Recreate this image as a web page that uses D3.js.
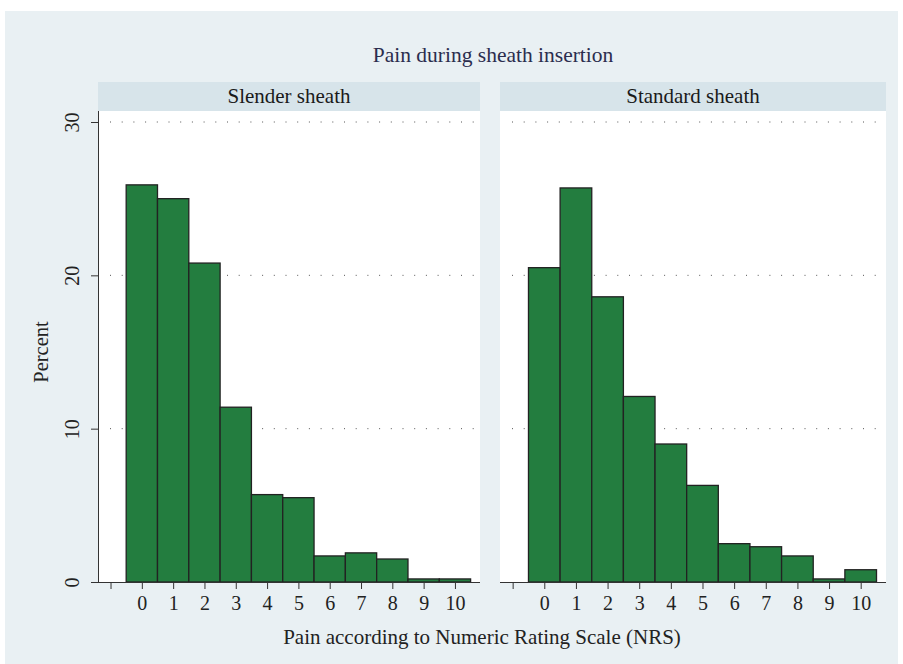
<!DOCTYPE html>
<html>
<head>
<meta charset="utf-8">
<script src="https://cdn.jsdelivr.net/npm/d3@7"></script>
<style>
  body { margin: 0; background: #fff; }
  text { font-family: "Liberation Serif", "DejaVu Serif", serif; }
</style>
</head>
<body>
<div id="chart"></div>
<script>
var painScores = [0, 1, 2, 3, 4, 5, 6, 7, 8, 9, 10];
var slenderPct = [25.9, 25.0, 20.8, 11.4, 5.7, 5.5, 1.7, 1.9, 1.5, 0.2, 0.2];
var standardPct = [20.5, 25.7, 18.6, 12.1, 9.0, 6.3, 2.5, 2.3, 1.7, 0.2, 0.8];
var panelNames = ["Slender sheath", "Standard sheath"];
var yTicks = [0, 10, 20, 30];
var xTicks = [-1, 0, 1, 2, 3, 4, 5, 6, 7, 8, 9, 10];

var width = 903, height = 664;
var svg = d3.select("#chart").append("svg")
	.attr("width", width)
	.attr("height", height);

// outer background
svg.append("rect")
	.attr("x", 5).attr("y", 11)
	.attr("width", 893).attr("height", 653)
	.attr("fill", "#e9f0f3");

svg.append("text")
	.attr("x", 493).attr("y", 62)
	.attr("text-anchor", "middle")
	.attr("font-size", 21.5)
	.attr("fill", "#2b2d4e")
	.text("Pain during sheath insertion");

var panels = [
	{ name: panelNames[0], values: slenderPct, left: 98, right: 480, yAxis: true },
	{ name: panelNames[1], values: standardPct, left: 500, right: 886, yAxis: false }
];

var plotTop = 111, plotBottom = 582;
var y = d3.scaleLinear().domain([0, 30]).range([582, 122]);

panels.forEach(function(p) {
	var x = d3.scaleLinear().domain([-1.4, 10.8]).range([p.left, p.right]);
	var g = svg.append("g");

	// strip header
	g.append("rect")
		.attr("x", p.left).attr("y", 82)
		.attr("width", p.right - p.left).attr("height", plotTop - 82)
		.attr("fill", "#d7e4ea");
	g.append("text")
		.attr("x", (p.left + p.right) / 2).attr("y", 103)
		.attr("text-anchor", "middle")
		.attr("font-size", 21)
		.attr("fill", "#1a1a1a")
		.text(p.name);

	// plot region
	g.append("rect")
		.attr("x", p.left).attr("y", plotTop)
		.attr("width", p.right - p.left).attr("height", plotBottom - plotTop)
		.attr("fill", "#fff");

	// dotted grid lines
	g.selectAll("line.grid")
		.data(yTicks.filter(function(d) { return d > 0; }))
		.enter().append("line")
		.attr("class", "grid")
		.attr("x1", p.left + 12).attr("x2", p.right - 2)
		.attr("y1", function(d) { return y(d); })
		.attr("y2", function(d) { return y(d); })
		.attr("stroke", "#555")
		.attr("stroke-width", 1)
		.attr("stroke-dasharray", "1,10.7");

	// bars
	g.selectAll("rect.bar")
		.data(p.values)
		.enter().append("rect")
		.attr("class", "bar")
		.attr("x", function(d, i) { return x(painScores[i] - 0.5); })
		.attr("width", function(d, i) { return x(painScores[i] + 0.5) - x(painScores[i] - 0.5); })
		.attr("y", function(d) { return y(d); })
		.attr("height", function(d) { return y(0) - y(d); })
		.attr("fill", "#237d3f")
		.attr("stroke", "#222")
		.attr("stroke-width", 1.3);

	// x axis
	var xAxis = d3.axisBottom(x)
		.tickValues(xTicks)
		.tickSize(7)
		.tickPadding(7)
		.tickFormat(function(d) { return d < 0 ? "" : d; });
	var xa = g.append("g")
		.attr("transform", "translate(0," + plotBottom + ")")
		.call(xAxis);
	xa.select(".domain").attr("d", "M" + p.left + ",0.5H" + p.right).attr("stroke", "#333");
	xa.selectAll(".tick line").attr("stroke", "#333");
	xa.selectAll(".tick text")
		.attr("font-family", "Liberation Serif, serif")
		.attr("font-size", 20)
		.attr("fill", "#222");

	if (p.yAxis) {
		var yAxis = d3.axisLeft(y)
			.tickValues(yTicks)
			.tickSize(7)
			.tickPadding(0)
			.tickFormat(d3.format("d"));
		var ya = g.append("g")
			.attr("transform", "translate(" + p.left + ",0)")
			.call(yAxis);
		ya.select(".domain").attr("d", "M0.5," + plotTop + "V" + plotBottom).attr("stroke", "#333");
		ya.selectAll(".tick line").attr("stroke", "#333");
		ya.selectAll(".tick text")
			.attr("font-family", "Liberation Serif, serif")
			.attr("font-size", 20)
			.attr("fill", "#222")
			.attr("text-anchor", "middle")
			.attr("x", 0)
			.attr("dy", 0)
			.attr("transform", "translate(-19,0) rotate(-90)");
	}
});

svg.append("text")
	.attr("transform", "translate(48,352) rotate(-90)")
	.attr("text-anchor", "middle")
	.attr("font-size", 20.5)
	.attr("fill", "#222")
	.text("Percent");

svg.append("text")
	.attr("x", 482).attr("y", 644)
	.attr("text-anchor", "middle")
	.attr("font-size", 21)
	.attr("fill", "#222")
	.text("Pain according to Numeric Rating Scale (NRS)");
</script>
</body>
</html>
